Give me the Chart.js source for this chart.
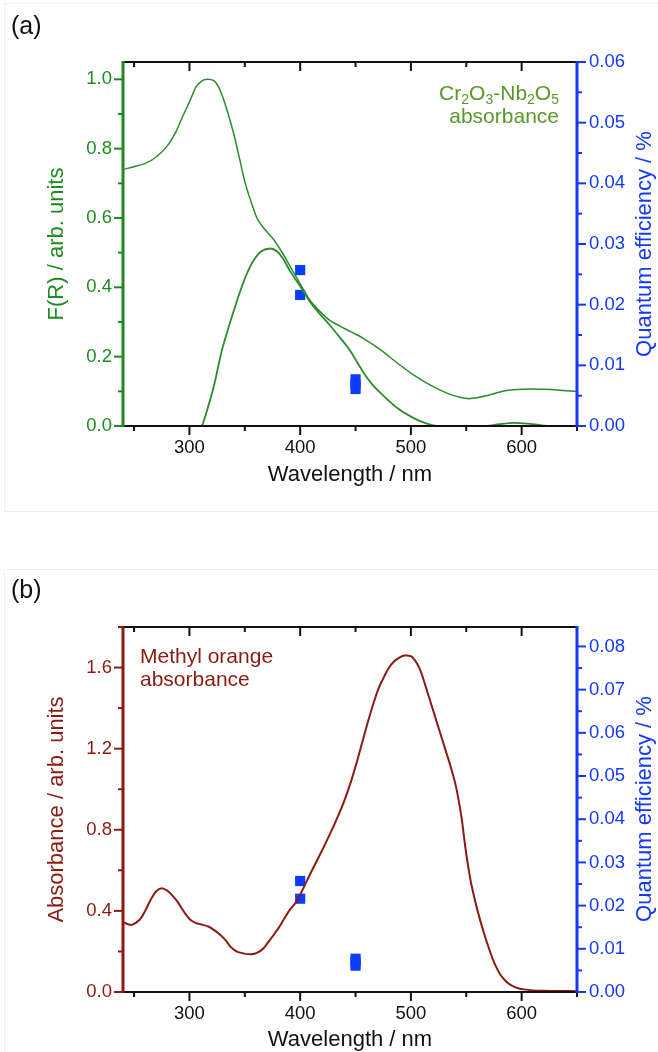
<!DOCTYPE html>
<html>
<head>
<meta charset="utf-8">
<title>Quantum efficiency and absorbance spectra</title>
<script src="https://cdn.jsdelivr.net/npm/chart.js@4.4.1/dist/chart.umd.min.js"></script>
<style>
  html, body { margin: 0; padding: 0; background: #fff; }
  body { width: 658px; height: 1052px; overflow: hidden; position: relative;
         font-family: "Liberation Sans", Arial, sans-serif; }
  .panel { position: absolute; left: 0; width: 658px; height: 526px; }
  .panel canvas { position: absolute; left: 0; top: 0; }
  .frame { position: absolute; left: 4px; width: 660px; border: 1px solid #f0f0f0; border-right: none; }
  .label { position: absolute; font-size: 25px; line-height: 1; color: #111; }
  .note { position: absolute; font-size: 21px; line-height: 23px; white-space: nowrap; }
  .note .sub { font-size: 14px; line-height: 0; position: relative; top: 4px; }
  .qe-title { position: absolute; font-size: 22px; line-height: 1; color: #1438ff; white-space: nowrap;
              transform: translate(-50%, -50%) rotate(-90deg); }
</style>
</head>
<body>
<div class="frame" style="top:3px; height:507px;"></div>
<div class="frame" style="top:569px; height:500px;"></div>

<div class="panel" style="top:0"><canvas id="chartA" width="658" height="526"></canvas></div>
<div class="panel" style="top:565px"><canvas id="chartB" width="658" height="526"></canvas></div>

<div class="label" style="left:11px; top:13px">(a)</div>
<div class="label" style="left:11px; top:577px">(b)</div>

<div class="note" style="right:99px; top:81px; text-align:right; color:#5a982c">
  Cr<span class="sub">2</span>O<span class="sub">3</span>-Nb<span class="sub">2</span>O<span class="sub">5</span><br>absorbance
</div>
<div class="note" style="left:140px; top:644px; color:#8b1a12">Methyl orange<br>absorbance</div>

<div class="qe-title" style="left:644px; top:244px">Quantum efficiency / %</div>
<div class="qe-title" style="left:644px; top:809px">Quantum efficiency / %</div>

<script>
// wavelength axis (nm)
const wlRange = [240, 650];
const wlMajor = [300, 400, 500, 600];
const wlMinor = [250, 350, 450, 550, 650];

// (a) Kubelka-Munk F(R) of Cr2O3-Nb2O5
const frRange = [0, 1.05];
const frMajor = [0, 0.2, 0.4, 0.6, 0.8, 1.0];
const frMinor = [0.1, 0.3, 0.5, 0.7, 0.9];
const crWl  = [240, 250, 261, 270, 280, 288, 294, 300, 306, 311, 316, 322, 326, 330, 335, 340,
               345, 350, 355, 361, 367, 376, 384, 391, 400, 409, 418, 427, 436, 445, 457, 472,
               488, 503, 518, 533, 545, 554, 569, 584, 600, 608, 620, 632, 650];
const crAbs = [0.740, 0.748, 0.759, 0.776, 0.808, 0.850, 0.894, 0.935, 0.978, 0.995, 1.000, 0.996,
               0.980, 0.950, 0.900, 0.843, 0.775, 0.705, 0.653, 0.600, 0.571, 0.538, 0.499, 0.460,
               0.410, 0.362, 0.330, 0.304, 0.288, 0.273, 0.253, 0.221, 0.181, 0.146, 0.117, 0.094,
               0.082, 0.079, 0.088, 0.101, 0.106, 0.107, 0.106, 0.104, 0.099];
const bandWl  = [311, 312, 316, 322, 329, 334, 338, 342, 346, 352, 358, 365, 373, 379, 385, 391,
                 400, 409, 418, 427, 436, 445, 457, 465, 473, 488, 503, 515, 524, 568, 580, 593,
                 605, 618, 628, 650];
const bandVal = [0.000, 0.005, 0.046, 0.114, 0.215, 0.270, 0.312, 0.352, 0.390, 0.440, 0.478, 0.504,
                 0.512, 0.504, 0.480, 0.446, 0.403, 0.358, 0.322, 0.290, 0.255, 0.218, 0.155, 0.120,
                 0.094, 0.051, 0.022, 0.006, 0.000, 0.000, 0.005, 0.009, 0.007, 0.002, 0.000, 0.000];

// (b) methyl orange absorbance
const absRange = [0, 1.8];
const absMajor = [0, 0.4, 0.8, 1.2, 1.6];
const absMinor = [0.2, 0.6, 1.0, 1.4, 1.8];
const moWl  = [240, 244, 248, 255, 260, 265, 270, 275, 280, 284, 289, 293, 297, 301, 306, 310,
               317, 323, 328, 333, 337, 342, 346, 351, 356, 361, 367, 371, 376, 381, 385, 390,
               396, 400, 406, 413, 421, 428, 434, 440, 446, 452, 459, 466, 471, 476, 480,
               485, 490, 494, 500, 503, 506, 509, 512, 516, 520, 524, 528, 532, 536, 540, 543,
               546, 549, 552, 555, 560, 566, 572, 576, 581, 586, 590, 596, 602, 610, 620, 635, 650];
const moAbs = [0.345, 0.335, 0.331, 0.356, 0.400, 0.455, 0.497, 0.512, 0.500, 0.479, 0.447, 0.413,
               0.380, 0.355, 0.340, 0.334, 0.323, 0.303, 0.281, 0.253, 0.224, 0.202, 0.194, 0.188,
               0.186, 0.193, 0.216, 0.245, 0.281, 0.320, 0.356, 0.400, 0.441, 0.480, 0.548, 0.625,
               0.712, 0.792, 0.865, 0.945, 1.040, 1.150, 1.290, 1.420, 1.500, 1.557, 1.598,
               1.631, 1.650, 1.659, 1.656, 1.640, 1.615, 1.580, 1.530, 1.460, 1.390, 1.320, 1.250,
               1.180, 1.110, 1.030, 0.950, 0.850, 0.720, 0.610, 0.520, 0.405, 0.290, 0.191, 0.135,
               0.084, 0.052, 0.035, 0.020, 0.013, 0.008, 0.006, 0.005, 0.004];

// photocatalytic quantum efficiency (%), same runs in both panels
const qeWl  = [400, 400, 450, 450, 450];
const qeVal = [0.0257, 0.0216, 0.0077, 0.0069, 0.0061];
const qeRangeA = [0, 0.06];
const qeMajorA = [0, 0.01, 0.02, 0.03, 0.04, 0.05, 0.06];
const qeMinorA = [0.005, 0.015, 0.025, 0.035, 0.045, 0.055];
const qeRangeB = [0, 0.0845];
const qeMajorB = [0, 0.01, 0.02, 0.03, 0.04, 0.05, 0.06, 0.07, 0.08];
const qeMinorB = [0.005, 0.015, 0.025, 0.035, 0.045, 0.055, 0.065, 0.075];

const GREEN_AXIS = '#1f8c1f';
const GREEN_LINE = '#2e8b2e';
const RED = '#8b1a12';
const BLUE_AXIS = '#1438ff';
const BLUE_MARK = '#0a3dff';
const FONT = '"Liberation Sans", Arial, sans-serif';
const tickFont = { family: FONT, size: 18.5 };
const titleFont = { family: FONT, size: 22 };

const CANVAS_W = 658, CANVAS_H = 526;
const PLOT_LEFT = 123, PLOT_RIGHT = 577, PLOT_TOP = 62;
const MAJOR = 9, MINOR = 5;

function toPoints(xs, ys) {
  return xs.map((x, i) => ({ x, y: ys[i] }));
}

// axis lines with inward top ticks and outward major/minor ticks elsewhere
function axisFrame(f) {
  return {
    id: 'axisFrame',
    afterDatasetsDraw(chart) {
      const { ctx, chartArea: a } = chart;
      const sx = chart.scales.x, sy = chart.scales.y, sy2 = chart.scales.y2;
      const seg = (x1, y1, x2, y2) => {
        ctx.beginPath(); ctx.moveTo(x1, y1); ctx.lineTo(x2, y2); ctx.stroke();
      };
      ctx.save();
      ctx.lineCap = 'butt';
      ctx.strokeStyle = '#111';
      ctx.lineWidth = 2;
      wlMajor.forEach(v => {
        const px = sx.getPixelForValue(v);
        seg(px, a.bottom, px, a.bottom + MAJOR);
        seg(px, a.top, px, a.top + MAJOR);
      });
      wlMinor.forEach(v => {
        const px = sx.getPixelForValue(v);
        seg(px, a.bottom, px, a.bottom + MINOR);
        seg(px, a.top, px, a.top + MINOR);
      });
      seg(a.left, a.bottom, a.right, a.bottom);
      seg(a.left, a.top, a.right, a.top);

      ctx.strokeStyle = f.leftColor;
      f.yMajor.forEach(v => { const py = sy.getPixelForValue(v); seg(a.left, py, a.left - MAJOR, py); });
      f.yMinor.forEach(v => { const py = sy.getPixelForValue(v); seg(a.left, py, a.left - MINOR, py); });
      ctx.lineWidth = 3;
      seg(a.left, a.top - 1, a.left, a.bottom + 1);

      ctx.strokeStyle = BLUE_AXIS;
      ctx.lineWidth = 2;
      f.y2Major.forEach(v => { const py = sy2.getPixelForValue(v); seg(a.right, py, a.right + MAJOR, py); });
      f.y2Minor.forEach(v => { const py = sy2.getPixelForValue(v); seg(a.right, py, a.right + MINOR, py); });
      ctx.lineWidth = 3;
      seg(a.right, a.top - 1, a.right, a.bottom + 1);
      ctx.restore();
    }
  };
}

function makePanel(id, p) {
  const setTicks = list => scale => { scale.ticks = list.map(value => ({ value })); };
  return new Chart(document.getElementById(id), {
    type: 'line',
    data: { datasets: p.datasets },
    options: {
      responsive: false,
      animation: false,
      events: [],
      layout: { padding: { top: PLOT_TOP, left: 0, right: 0, bottom: 0 } },
      plugins: { legend: { display: false }, tooltip: { enabled: false } },
      scales: {
        x: {
          type: 'linear', position: 'bottom', min: wlRange[0], max: wlRange[1],
          afterBuildTicks: setTicks(wlMajor),
          afterFit: s => { s.height = CANVAS_H - p.plotBottom; },
          grid: { display: false, drawTicks: false },
          border: { display: false },
          ticks: { padding: 10.5, color: '#111', font: tickFont, autoSkip: false, maxRotation: 0,
                   callback: v => String(v) },
          title: { display: true, text: 'Wavelength / nm', color: '#111', font: titleFont,
                   padding: { top: 0, bottom: 37.4 } }
        },
        y: {
          type: 'linear', position: 'left', min: p.yRange[0], max: p.yRange[1],
          afterBuildTicks: setTicks(p.yMajor),
          afterFit: s => { s.width = PLOT_LEFT; },
          grid: { display: false, drawTicks: false },
          border: { display: false },
          ticks: { padding: 11, color: p.color, font: tickFont, autoSkip: false,
                   callback: v => v.toFixed(1) },
          title: { display: true, text: p.yTitle, color: p.color, font: titleFont,
                   padding: { top: 44, bottom: 0 } }
        },
        y2: {
          type: 'linear', position: 'right', min: p.y2Range[0], max: p.y2Range[1],
          afterBuildTicks: setTicks(p.y2Major),
          afterFit: s => { s.width = CANVAS_W - PLOT_RIGHT; },
          grid: { display: false, drawTicks: false },
          border: { display: false },
          ticks: { padding: 12, color: BLUE_AXIS, font: tickFont, autoSkip: false,
                   callback: v => v.toFixed(2) }
        }
      }
    },
    plugins: [axisFrame({ leftColor: p.color, yMajor: p.yMajor, yMinor: p.yMinor,
                          y2Major: p.y2Major, y2Minor: p.y2Minor })]
  });
}

const curve = (xs, ys, color, width) => ({
  data: toPoints(xs, ys), yAxisID: 'y', borderColor: color, borderWidth: width,
  pointRadius: 0, fill: false, tension: 0.3
});
const qeMarks = () => ({
  data: toPoints(qeWl, qeVal), yAxisID: 'y2', showLine: false,
  pointStyle: 'rect', pointRadius: 7.2, pointBorderWidth: 0,
  pointBackgroundColor: BLUE_MARK, backgroundColor: BLUE_MARK, borderColor: BLUE_MARK
});

makePanel('chartA', {
  plotBottom: 426,
  color: GREEN_AXIS,
  yTitle: 'F(R) / arb. units',
  yRange: frRange, yMajor: frMajor, yMinor: frMinor,
  y2Range: qeRangeA, y2Major: qeMajorA, y2Minor: qeMinorA,
  datasets: [
    curve(crWl, crAbs, GREEN_LINE, 1.5),
    curve(bandWl, bandVal, GREEN_LINE, 1.8),
    qeMarks()
  ]
});

makePanel('chartB', {
  plotBottom: 427,
  color: RED,
  yTitle: 'Absorbance / arb. units',
  yRange: absRange, yMajor: absMajor, yMinor: absMinor,
  y2Range: qeRangeB, y2Major: qeMajorB, y2Minor: qeMinorB,
  datasets: [
    curve(moWl, moAbs, RED, 2),
    qeMarks()
  ]
});
</script>
</body>
</html>
